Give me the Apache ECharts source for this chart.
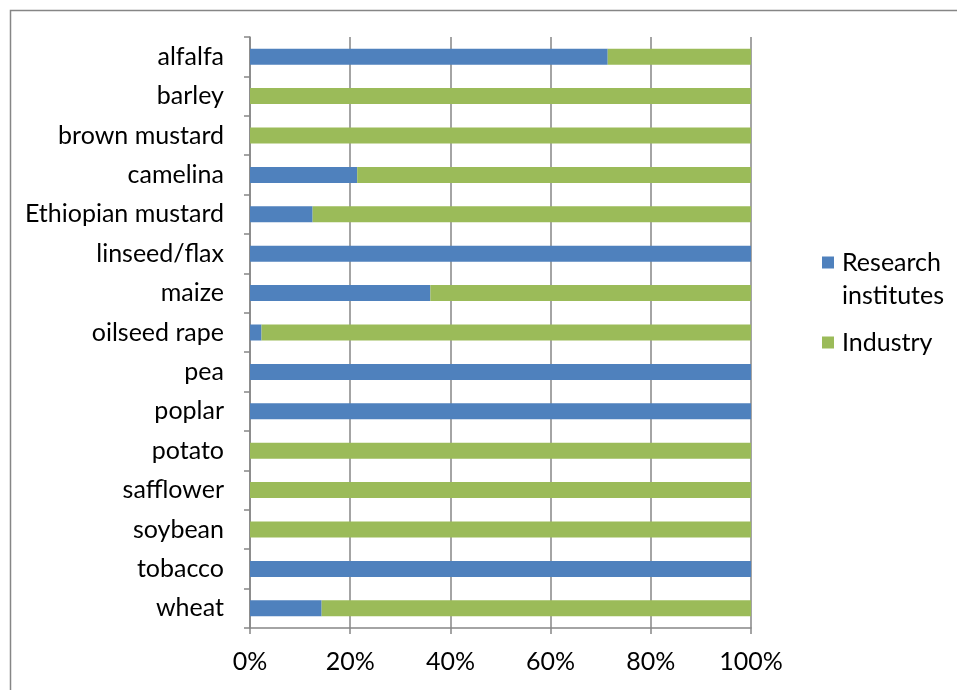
<!DOCTYPE html>
<html>
<head>
<meta charset="utf-8">
<script src="https://cdn.jsdelivr.net/npm/echarts@6/dist/echarts.min.js"></script>
<style>
  html, body { margin: 0; padding: 0; background: #ffffff; }
  #chart { width: 957px; height: 690px; }
</style>
</head>
<body>
<div id="chart"></div>
<script>
// Crops, top to bottom
const crops = ['alfalfa', 'barley', 'brown mustard', 'camelina', 'Ethiopian mustard',
  'linseed/flax', 'maize', 'oilseed rape', 'pea', 'poplar', 'potato', 'safflower',
  'soybean', 'tobacco', 'wheat'];

// Share of each crop's projects (%) by type of organisation
const researchInstitutes = [71.4, 0, 0, 21.4, 12.5, 100, 36.0, 2.3, 100, 100, 0, 0, 0, 100, 14.3];
const industry = [28.6, 100, 100, 78.6, 87.5, 0, 64.0, 97.7, 0, 0, 100, 100, 100, 0, 85.7];

const xTicks = [0, 20, 40, 60, 80, 100];

const FONT = 'Lato, "Open Sans", "Liberation Sans", sans-serif';
const FONT_SIZE = 25;
const GREY = '#868686';

const chart = echarts.init(document.getElementById('chart'), null, { renderer: 'canvas' });

const legendBase = {
  orient: 'vertical',
  left: 817,
  itemWidth: 12, itemHeight: 12,
  icon: 'rect',
  selectedMode: false,
  textStyle: { fontFamily: FONT, fontSize: FONT_SIZE, color: '#000', lineHeight: 33, padding: [0, 0, 0, 3] }
};

chart.setOption({
  backgroundColor: '#ffffff',
  animation: false,
  textStyle: { fontFamily: FONT },
  graphic: [{
    type: 'rect',
    left: 8, top: 8,
    shape: { width: 1000, height: 750 },
    style: { fill: 'none', stroke: GREY, lineWidth: 1.5 },
    silent: true, z: -1
  }],
  grid: { left: 250, right: 206, top: 37, bottom: 62, containLabel: false },
  legend: [
    Object.assign({}, legendBase, {
      top: 208,
      data: ['Research\ninstitutes'],
      // leading blank line keeps the marker level with the first line of the name
      formatter: name => '\u00a0\n' + name
    }),
    Object.assign({}, legendBase, {
      top: 321,
      data: ['Industry']
    })
  ],
  xAxis: {
    type: 'value',
    min: xTicks[0], max: xTicks[xTicks.length - 1], interval: 20,
    axisLine: { show: true, lineStyle: { color: GREY, width: 1.5 } },
    axisTick: { show: true, length: 6, lineStyle: { color: GREY, width: 1.5 } },
    axisLabel: { formatter: v => v + '%', fontFamily: FONT, fontSize: FONT_SIZE, color: '#000', margin: 21 },
    splitLine: { show: true, lineStyle: { color: GREY, width: 1.5 } }
  },
  yAxis: {
    type: 'category',
    inverse: true,
    data: crops,
    axisLine: { show: true, lineStyle: { color: GREY, width: 1.5 } },
    axisTick: { show: true, length: 6, lineStyle: { color: GREY, width: 1.5 } },
    axisLabel: { fontFamily: FONT, fontSize: FONT_SIZE, color: '#000', margin: 26 }
  },
  series: [
    {
      name: 'Research\ninstitutes', type: 'bar', stack: 'share',
      data: researchInstitutes, barWidth: 16,
      itemStyle: { color: '#4F81BD' }
    },
    {
      name: 'Industry', type: 'bar', stack: 'share',
      data: industry, barWidth: 16,
      itemStyle: { color: '#9BBB59' }
    }
  ]
});
</script>
</body>
</html>
